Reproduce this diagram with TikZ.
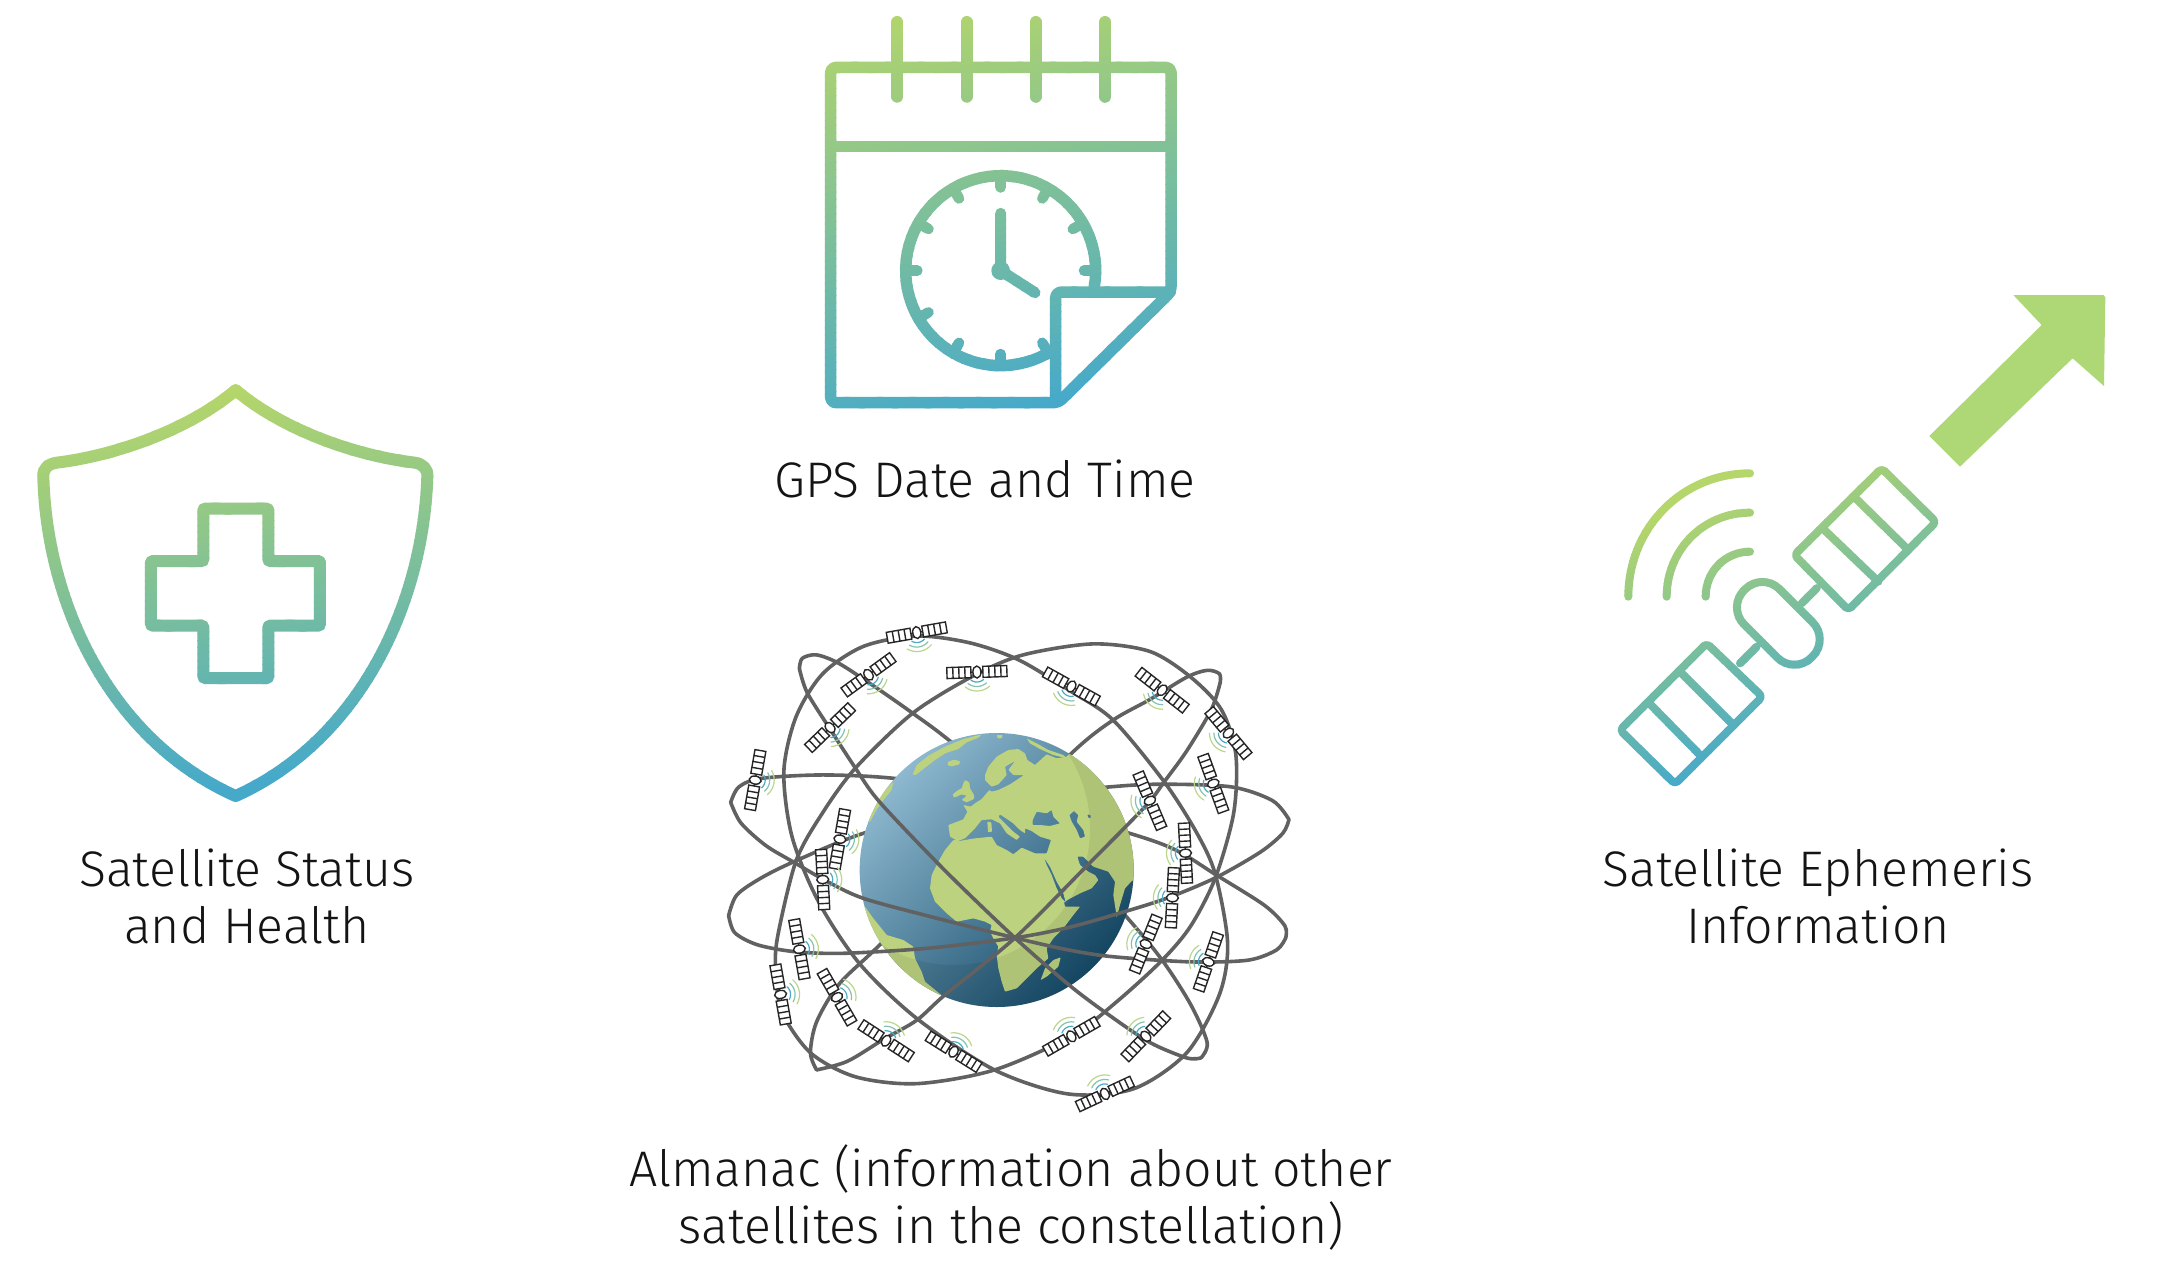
\documentclass[tikz,border=0pt]{standalone}
\usepackage{fontspec}
\setmainfont{Fira Sans}[UprightFont=* Light]
\definecolor{gradA}{HTML}{B6D669}
\definecolor{gradB}{HTML}{45A9CB}
\definecolor{arrowgreen}{HTML}{AED776}
\definecolor{orbitgrey}{HTML}{616161}
\definecolor{landgreen}{HTML}{BDD27F}
\definecolor{oceanA}{HTML}{8DB8CF}
\definecolor{oceanB}{HTML}{3F97BD}
\definecolor{oceanC}{HTML}{164B69}
\definecolor{sigA}{HTML}{4AA9C5}
\definecolor{sigB}{HTML}{86C3AE}
\definecolor{sigC}{HTML}{BAD78C}
\colorlet{gcol}{gradA}
\tikzset{
  gs/.style={draw=gcol,line join=round,line cap=round,line width=#1},
  gs/.default=11pt,
  orbit/.style={draw=orbitgrey,line width=3.6pt,line cap=round,line join=round},
  panel/.style={draw=black!85,fill=white,line width=1.4pt},
  lab/.style={font=\fontsize{50}{57}\selectfont,text=black!92,align=center,inner sep=0pt},
  sig/.style={line width=1.2pt,line cap=round},
  coast/.style={landgreen,rounded corners=.7pt},
}
\newcommand\gradbands[5]{%
  \pgfmathsetmacro\gdx{#3-#1}\pgfmathsetmacro\gdy{#4-#2}%
  \foreach \i in {0,...,59}{%
    \pgfmathsetmacro\ta{\i==0?-1:\i/60}%
    \pgfmathsetmacro\tb{\i==59?2:(\i+1.15)/60}%
    \pgfmathsetmacro\tc{(\i+.5)/60*100}%
    \colorlet{gcol}{gradB!\tc!gradA}%
    \begin{scope}
      \clip ({#1+\ta*\gdx-3*\gdy},{#2+\ta*\gdy+3*\gdx}) -- ({#1+\tb*\gdx-3*\gdy},{#2+\tb*\gdy+3*\gdx})
         -- ({#1+\tb*\gdx+3*\gdy},{#2+\tb*\gdy-3*\gdx}) -- ({#1+\ta*\gdx+3*\gdy},{#2+\ta*\gdy-3*\gdx}) -- cycle;
      #5
    \end{scope}
  }%
}
\newcommand\shieldicon{%
  \begin{scope}[shift={(20,370)},scale=1/3]
    \draw[gs=12pt] (647,60) .. controls (520,170) and (300,255) .. (110,278)
      .. controls (85,282) and (68,295) .. (70,320)
      .. controls (80,700) and (270,1110) .. (647,1278)
      .. controls (1020,1110) and (1210,700) .. (1222,320)
      .. controls (1224,295) and (1207,282) .. (1185,278)
      .. controls (990,255) and (775,170) .. (647,60) -- cycle;
    \draw[gs=12pt,rounded corners=1pt] (550,416) -- (745,416) -- (745,573) -- (900,573) -- (900,767) -- (745,767) -- (745,924) -- (550,924) -- (550,767) -- (393,767) -- (393,573) -- (550,573) -- cycle;
  \end{scope}}
\newcommand\calicon{%
  \begin{scope}[shift={(790,0)},scale=1/3]
    \draw[gs=11.5pt,rounded corners=5pt] (805,1208) -- (122,1208) -- (122,202) -- (1143,202) -- (1143,875) -- cycle;
    \draw[gs=11.5pt] (122,440) -- (1143,440);
    \foreach \rx in {322,530,737,945} \draw[gs=12pt] (\rx,66) -- (\rx,290);
    \draw[gs=11.5pt,rounded corners=6pt] (797,1195) -- (797,876) -- (1140,876);
    \draw[gs=11.5pt] plot[domain=61:370,samples=70] ({632+285*cos(\x)},{812+285*sin(\x)});
    \foreach \a in {0,60,90,120,150,180,210,240,270,300,330}
      \draw[gs=10.5pt] ({632+285*cos(\a)},{812+285*sin(\a)}) -- ({632+250*cos(\a)},{812+250*sin(\a)});
    \draw[gs=11pt] (632,640) -- (632,812) -- (735,878);
    \fill[gcol] (632,812) circle[radius=28pt];
  \end{scope}}
\newcommand\saticon{%
  \begin{scope}[shift={(1600,280)},scale=1/3]
    \draw[gs=8pt,rounded corners=4pt] (845,565) -- (1008,726) -- (745,990) -- (583,825) -- cycle;
    \draw[gs=8pt] (668,745) -- (835,905) (762,650) -- (925,810);
    \draw[gs=8pt,rounded corners=4pt] (320,1090) -- (487,1250) -- (225,1512) -- (60,1350) -- cycle;
    \draw[gs=8pt] (148,1270) -- (305,1430) (240,1175) -- (400,1335);
    \draw[gs=8pt,rounded corners=24pt] (487,876) -- (689,1078) -- (583,1184) -- (381,982) -- cycle;
    \draw[gs=8pt] (605,970) -- (650,925) (420,1150) -- (470,1100);
    \draw[gs=8pt] (85,950) .. controls (85,745) and (245,580) .. (450,580);
    \draw[gs=8pt] (200,950) .. controls (200,810) and (310,698) .. (450,698);
    \draw[gs=8pt] (317,950) .. controls (317,875) and (375,815) .. (450,815);
  \end{scope}}
\newcommand\sat[4]{%
  \pgfmathsetmacro\sx{700+.409*#1}\pgfmathsetmacro\sy{600+.343*#2}%
  \begin{scope}[shift={(\sx,\sy)},rotate=#4]
    \draw[sig,sigA] plot[domain=-40:40,samples=9] ({10*cos(\x)},{10*sin(\x)});
    \draw[sig,sigB] plot[domain=-40:40,samples=9] ({14.5*cos(\x)},{14.5*sin(\x)});
    \draw[sig,sigC] plot[domain=-40:40,samples=9] ({19*cos(\x)},{19*sin(\x)});
  \end{scope}
  \begin{scope}[shift={(\sx,\sy)},rotate=#3]
    \draw[panel] (-7,0) -- (7,0);
    \foreach \sn in {1,-1}{
      \draw[panel] ({\sn*6},-5.5) rectangle ({\sn*30},5.5);
      \foreach \pd in {12,18,24} \draw[draw=black!85,line width=1.4pt] ({\sn*\pd},-5.5) -- ({\sn*\pd},5.5);
    }
    \draw[panel] (0,0) ellipse[x radius=4,y radius=6];
  \end{scope}}
\begin{document}
\begin{tikzpicture}[x=1pt,y=-1pt]
\useasboundingbox (0,0) rectangle (2174,1286);
\fill[white] (0,0) rectangle (2174,1286);
% gradient icons
\gradbands{100}{405}{160}{801}{\shieldicon}
\gradbands{830}{15}{925}{438}{\calicon}
\gradbands{1750}{475}{1853}{716}{\saticon}
% arrow
\begin{scope}[shift={(1600,280)},scale=1/3]
  \fill[arrowgreen] (1240,45) -- (1510,45) -- (1516,52) -- (1512,318) -- (1418,235) -- (1080,560) -- (988,468) -- (1325,135) -- cycle;
\end{scope}
% orbits, far side
\begin{scope}[shift={(700,600)},xscale=.409,yscale=.343]
  \draw[orbit] plot[smooth] coordinates {(243,200)(250,170)(285,160)(340,185)(430,255)(520,330)(610,410)(800,600)(1040,920)(1130,1050)(1200,1180)(1240,1290)(1225,1335)};
  \draw[orbit] plot[smooth] coordinates {(1272,240)(1270,215)(1240,205)(1190,225)(1100,290)(1010,350)(910,445)(700,700)(440,1005)(340,1120)(285,1230)(270,1320)(285,1370)};
  \draw[orbit] plot[smooth] coordinates {(75,590)(95,545)(150,520)(300,510)(475,520)(700,560)(1050,680)(1165,730)(1260,800)(1380,890)(1430,950)(1432,985)};
  \draw[orbit] plot[smooth] coordinates {(70,920)(90,860)(150,810)(235,760)(400,680)(700,580)(1000,545)(1130,537)(1300,545)(1400,585)(1440,640)};
  \draw[orbit] plot[smooth cycle] coordinates {(530,105)(660,125)(780,175)(905,265)(1010,350)(1135,530)(1215,680)(1260,800)(1290,1000)(1270,1150)(1190,1320)(1060,1425)(900,1440)(720,1370)(530,1220)(390,1060)(290,880)(225,690)(205,500)(235,340)(300,215)(400,135)};
  \draw[orbit] plot[smooth cycle] coordinates {(960,128)(1100,150)(1200,225)(1275,320)(1310,450)(1305,620)(1260,810)(1200,950)(1130,1050)(1020,1170)(910,1270)(720,1370)(530,1410)(380,1390)(270,1320)(200,1200)(185,1080)(190,980)(235,760)(300,620)(380,490)(520,330)(670,220)(790,160)};
\end{scope}
% globe
\begin{scope}[shift={(850,725)},scale=1/3]
  \shade[top color=oceanA,middle color=oceanB,bottom color=oceanC,shading angle=45] (440,435) circle[radius=411pt];
  \begin{scope}
    \clip (440,435) circle[radius=411pt];
    \fill[coast,even odd rule]
      % Eurasia and Africa
      (505,72) -- (525,85) -- (532,105) -- (555,120) -- (590,88) -- (620,100) -- (650,95) -- (700,40) -- (900,200) -- (920,435) -- (845,468)
      -- (825,490) -- (810,540) -- (800,578) -- (797,555) -- (790,510) -- (795,470) -- (775,440) -- (730,425) -- (700,395) -- (682,395)
      -- (690,420) -- (715,440) -- (735,450) -- (745,465) -- (725,490) -- (690,505) -- (652,525) -- (642,532) -- (645,545) -- (690,545)
      -- (670,570) -- (640,610) -- (610,640) -- (590,670) -- (595,700) -- (560,730) -- (530,760) -- (500,790) -- (465,800) -- (455,770)
      -- (445,730) -- (440,690) -- (445,665) -- (430,640) -- (420,620) -- (425,600) -- (405,590) -- (370,580) -- (320,590) -- (290,565)
      -- (255,530) -- (240,490) -- (245,450) -- (265,410) -- (285,375) -- (310,345) -- (318,345) -- (300,335) -- (295,300) -- (340,283)
      -- (352,260) -- (340,240) -- (362,245) -- (375,235) -- (395,222) -- (418,195) -- (425,200) -- (445,195) -- (480,178) -- (522,150)
      -- (490,150) -- (475,135) -- (495,108) -- (465,125) -- (470,150) -- (445,178) -- (425,185) -- (405,165) -- (405,150) -- (415,125)
      -- (440,95) -- (475,75) -- cycle
      % Mediterranean
      (318,350) -- (345,345) -- (375,340) -- (425,335) -- (440,360) -- (470,375) -- (490,388) -- (515,368) -- (555,385) -- (590,385)
      -- (603,345) -- (570,335) -- (545,318) -- (525,310) -- (525,325) -- (510,315) -- (490,295) -- (450,268) -- (445,275) -- (470,300)
      -- (490,320) -- (510,335) -- (500,345) -- (470,325) -- (450,295) -- (425,283) -- (395,285) -- (375,310) -- (345,340) -- cycle
      % Black Sea
      (548,285) -- (560,260) -- (590,265) -- (605,255) -- (610,275) -- (630,295) -- (600,303) -- (570,300) -- (548,300) -- cycle
      % Caspian
      (658,270) -- (672,258) -- (685,270) -- (680,290) -- (700,315) -- (705,335) -- (690,340) -- (680,315) -- (665,290) -- cycle
      % Aral
      (712,268) -- (722,270) -- (722,280) -- (714,278) -- cycle
      % Red Sea
      (582,398) -- (600,425) -- (620,470) -- (640,505) -- (647,532) -- (635,520) -- (620,490) -- (605,450) -- (590,420) -- cycle;
    \fill[coast] (412,290) -- (424,292) -- (426,320) -- (414,322) -- cycle;
    \fill[coast] (188,148) -- (200,120) -- (235,92) -- (285,65) -- (340,42) -- (395,28) -- (385,38) -- (350,52) -- (325,72) -- (285,85) -- (255,105) -- (225,128) -- (197,150) -- cycle;
    \fill[coast] (292,112) -- (310,104) -- (330,108) -- (328,118) -- (305,124) -- (295,122) -- cycle;
    \fill[coast] (440,30) -- (458,30) -- (455,40) -- (443,40) -- cycle;
    \fill[coast] (345,165) -- (358,172) -- (360,190) -- (372,210) -- (372,222) -- (350,232) -- (335,225) -- (350,212) -- (335,208) -- (312,218) -- (308,208) -- (325,195) -- (335,190) -- (340,175) -- cycle;
    \fill[coast] (40,290) -- (62,275) -- (85,225) -- (110,190) -- (130,170) -- (125,195) -- (100,225) -- (82,250) -- (60,290) -- cycle;
    \fill[coast] (30,530) -- (45,545) -- (70,580) -- (110,630) -- (160,645) -- (190,665) -- (195,700) -- (215,740) -- (225,770) -- (280,815) -- (150,800) -- (20,640) -- cycle;
    \fill[coast] (530,40) -- (560,55) -- (595,75) -- (640,90) -- (650,100) -- (610,90) -- (570,72) -- (540,55) -- cycle;
    \fill[coast] (632,697) -- (625,725) -- (590,755) -- (572,765) -- (585,730) -- (610,705) -- cycle;
    \fill[black,opacity=.07,even odd rule] (0,0) rectangle (900,900) (310,310) circle[radius=410pt];
  \end{scope}
\end{scope}
% orbits, near side
\begin{scope}[shift={(700,600)},xscale=.409,yscale=.343]
  \draw[orbit] plot[smooth] coordinates {(243,200)(262,270)(320,380)(380,490)(440,590)(600,790)(770,985)(905,1125)(1000,1210)(1100,1290)(1190,1335)(1225,1335)};
  \draw[orbit] plot[smooth] coordinates {(1272,240)(1250,320)(1190,440)(1135,530)(1090,600)(950,770)(770,985)(600,1150)(530,1225)(450,1280)(360,1345)(285,1370)};
  \draw[orbit] plot[smooth] coordinates {(75,590)(100,650)(160,715)(230,765)(310,820)(400,870)(570,925)(770,985)(900,1020)(1010,1040)(1200,1055)(1340,1050)(1410,1020)(1432,985)};
  \draw[orbit] plot[smooth] coordinates {(70,920)(85,970)(140,1005)(230,1025)(350,1030)(560,1015)(770,985)(900,955)(1020,915)(1140,870)(1260,810)(1370,735)(1425,680)(1440,640)};
\end{scope}
% satellites
\sat{530}{95}{10}{-80}
\sat{412}{218}{36}{-54}
\sat{318}{372}{44}{-46}
\sat{677}{210}{2}{-88}
\sat{908}{252}{-29}{-119}
\sat{1130}{263}{-38}{-128}
\sat{1292}{388}{-50}{-140}
\sat{135}{525}{80}{-10}
\sat{1255}{535}{-70}{-160}
\sat{1100}{585}{-67}{-157}
\sat{342}{697}{80}{-10}
\sat{1187}{738}{-87}{177}
\sat{300}{815}{-87}{0}
\sat{1155}{868}{87}{177}
\sat{1090}{1003}{68}{158}
\sat{1243}{1055}{71}{161}
\sat{243}{1018}{-80}{10}
\sat{197}{1150}{-80}{10}
\sat{335}{1158}{-60}{30}
\sat{455}{1285}{-33}{57}
\sat{620}{1317}{-32}{58}
\sat{908}{1272}{30}{120}
\sat{1090}{1272}{46}{136}
\sat{990}{1440}{25}{115}
% labels
\node[lab,anchor=base] (gps) at (985,497) {GPS Date and Time};
\node[lab] (status) at (247,896) {Satellite Status\\and Health};
\node[lab] (eph) at (1818,896) {Satellite Ephemeris\\Information};
\node[lab] (alm) at (1011,1197) {Almanac (information about other\\satellites in the constellation)};
\end{tikzpicture}
\end{document}
